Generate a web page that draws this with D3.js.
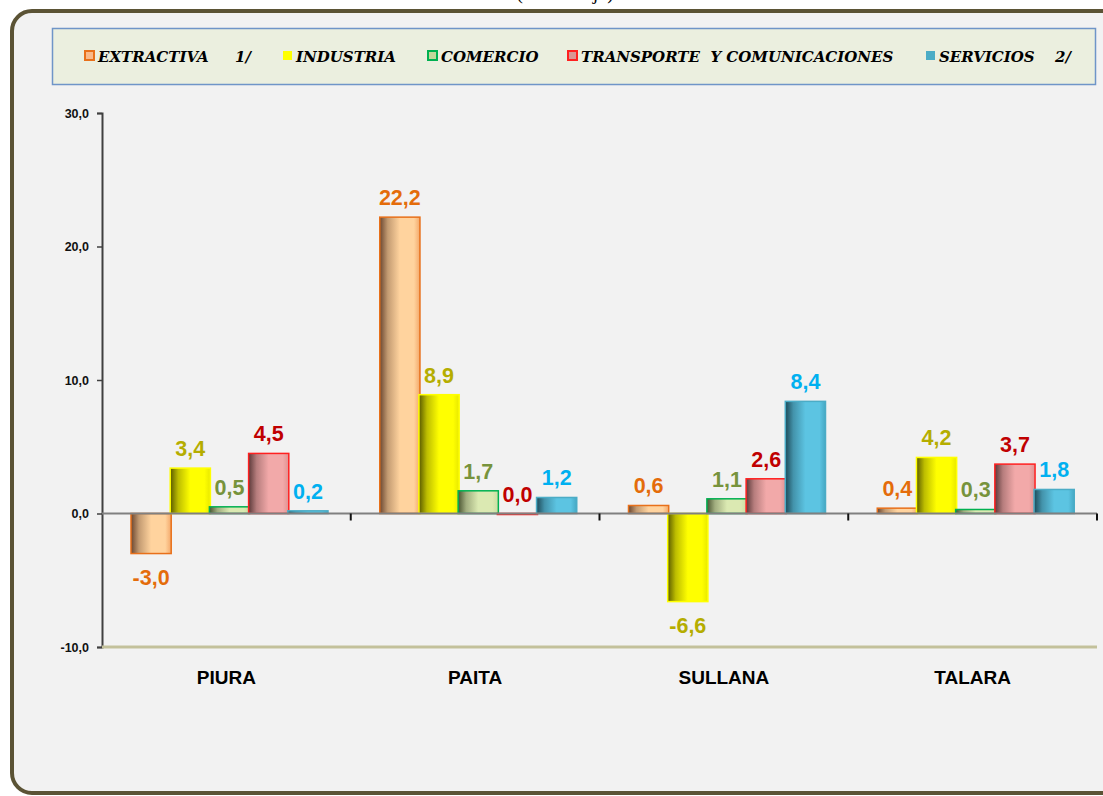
<!DOCTYPE html>
<html>
<head>
<meta charset="utf-8">
<script src="https://cdn.jsdelivr.net/npm/d3@7"></script>
<style>
body { margin: 0; background: #ffffff; }
svg { display: block; }
</style>
</head>
<body>
<div id="chart"></div>
<script>
// data
var regions = ['PIURA', 'PAITA', 'SULLANA', 'TALARA'];
var seriesNames = ['EXTRACTIVA', 'INDUSTRIA', 'COMERCIO', 'TRANSPORTE  Y COMUNICACIONES', 'SERVICIOS'];
var seriesNotes = ['1/', '', '', '', '2/'];
var extractiva = [-3.0, 22.2, 0.6, 0.4];
var industria = [3.4, 8.9, -6.6, 4.2];
var comercio = [0.5, 1.7, 1.1, 0.3];
var transporte = [4.5, 0.0, 2.6, 3.7];
var servicios = [0.2, 1.2, 8.4, 1.8];
var yTicks = [-10, 0, 10, 20, 30];

var width = 1103;
var height = 796;

// look of each series: dark side, light side, outline, label colour
var styles = [
	{dark: '#6a4630', light: '#ffd39e', edge: '#f3a86a', stroke: '#e8701a', label: '#e46c0a', key: '#f9b98a'},
	{dark: '#5a5a00', light: '#ffff00', edge: '#e8e800', stroke: '#ffff00', label: '#b5ad00', key: '#ffff00'},
	{dark: '#4a5432', light: '#dbe9b2', edge: '#c9dca0', stroke: '#00b050', label: '#77933c', key: '#c4d79b'},
	{dark: '#5c3a3a', light: '#f2a9a9', edge: '#e09090', stroke: '#ff2020', label: '#c00000', key: '#d99694'},
	{dark: '#1d4a58', light: '#5cc4e2', edge: '#45a8c4', stroke: '#4bacc6', label: '#00b0f0', key: '#4bacc6'}
];

var legendX = [84, 282, 427, 567, 925];
var noteX = [235, 0, 0, 0, 1055];

function fmt(v) {
	return v.toFixed(1).replace('.', ',');
}

function drawChart() {
	var values = [extractiva, industria, comercio, transporte, servicios];

	var svg = d3.select('#chart')
				.append('svg')
				.attr('width', width)
				.attr('height', height);

	// gradients for the cylinder look
	var defs = svg.append('defs');
	styles.forEach(function(s, i) {
		var g = defs.append('linearGradient')
					.attr('id', 'grad' + i)
					.attr('x1', '0%').attr('x2', '100%')
					.attr('y1', '0%').attr('y2', '0%');
		g.append('stop').attr('offset', '0%').attr('stop-color', s.dark);
		g.append('stop').attr('offset', '20%').attr('stop-color', d3.interpolateRgb(s.dark, s.light)(0.6));
		g.append('stop').attr('offset', '50%').attr('stop-color', s.light);
		g.append('stop').attr('offset', '85%').attr('stop-color', s.light);
		g.append('stop').attr('offset', '100%').attr('stop-color', s.edge);
	});

	// title, cut off at the top as in the original
	svg.append('text')
		.attr('x', 565)
		.attr('y', -1)
		.attr('text-anchor', 'middle')
		.style('font-family', '"Liberation Serif", serif')
		.style('font-size', '20px')
		.text('(Porcentaje)');

	// outer frame
	svg.append('rect')
		.attr('x', 12)
		.attr('y', 11)
		.attr('width', 1130)
		.attr('height', 782)
		.attr('rx', 20)
		.attr('fill', '#f2f2f2')
		.attr('stroke', '#5b5335')
		.attr('stroke-width', 4);

	// legend
	svg.append('rect')
		.attr('x', 52.5)
		.attr('y', 28.5)
		.attr('width', 1043)
		.attr('height', 56)
		.attr('fill', '#ebefdf')
		.attr('stroke', '#6f95c8')
		.attr('stroke-width', 1.5);

	var legend = svg.append('g')
		.selectAll('g')
		.data(seriesNames)
		.enter()
		.append('g');

	legend.append('rect')
		.attr('x', function(d, i) { return legendX[i] + 1; })
		.attr('y', 51)
		.attr('width', 9)
		.attr('height', 9)
		.attr('fill', function(d, i) { return styles[i].key; })
		.attr('stroke', function(d, i) { return styles[i].stroke; })
		.attr('stroke-width', function(d, i) { return (i == 1 || i == 4) ? 0 : 2; });

	legend.append('text')
		.attr('x', function(d, i) { return legendX[i] + 14; })
		.attr('y', 62)
		.style('font-family', '"DejaVu Serif", serif')
		.style('font-weight', 'bold')
		.style('font-style', 'italic')
		.style('font-size', '15px')
		.style('white-space', 'pre')
		.text(function(d) { return d; });

	legend.filter(function(d, i) { return seriesNotes[i] != ''; })
		.append('text')
		.attr('x', function(d) { return noteX[seriesNames.indexOf(d)]; })
		.attr('y', 62)
		.style('font-family', '"DejaVu Serif", serif')
		.style('font-weight', 'bold')
		.style('font-style', 'italic')
		.style('font-size', '15px')
		.text(function(d) { return seriesNotes[seriesNames.indexOf(d)]; });

	//Create scales
	var x0 = d3.scaleBand()
				.domain(regions)
				.range([102, 1097])
				.padding(0);

	var x1 = d3.scaleBand()
				.domain(seriesNames)
				.range([29.5, 225.5])
				.padding(0);

	var y = d3.scaleLinear()
				.domain([-10, 30])
				.range([647, 113]);

	var barW = x1.bandwidth() + 1;

	// y axis
	var y_axis = d3.axisLeft(y)
					.tickValues(yTicks)
					.tickSize(5)
					.tickFormat(fmt);

	var ya = svg.append('g')
		.attr('class', 'y-axis')
		.attr('transform', 'translate(102,0)')
		.call(y_axis);
	ya.select('.domain').attr('stroke', '#404040').attr('stroke-width', 2);
	ya.selectAll('.tick line').attr('stroke', '#404040').attr('stroke-width', 1.5);
	ya.selectAll('.tick text')
		.attr('x', -13)
		.style('font-family', '"Liberation Sans", Arial, sans-serif')
		.style('font-weight', 'bold')
		.style('font-size', '12.5px')
		.attr('fill', '#111');

	// bottom line at -10
	svg.append('line')
		.attr('x1', 102).attr('x2', 1097)
		.attr('y1', y(-10)).attr('y2', y(-10))
		.attr('stroke', '#c3c19b')
		.attr('stroke-width', 3);

	// bars
	var groups = svg.append('g')
		.selectAll('g')
		.data(regions)
		.enter()
		.append('g')
		.attr('transform', function(d) { return 'translate(' + x0(d) + ',0)'; });

	groups.selectAll('rect')
		.data(function(d, ri) {
			return seriesNames.map(function(s, si) { return {s: s, si: si, v: values[si][ri]}; });
		})
		.enter()
		.append('rect')
		.attr('x', function(d) { return x1(d.s) + x1.bandwidth() / 2 - barW / 2; })
		.attr('y', function(d) { return Math.min(y(d.v), y(0)); })
		.attr('width', barW)
		.attr('height', function(d) { return Math.max(1, Math.abs(y(d.v) - y(0))); })
		.attr('fill', function(d) { return 'url(#grad' + d.si + ')'; })
		.attr('stroke', function(d) { return styles[d.si].stroke; })
		.attr('stroke-width', 1.5);

	// zero line with ticks between regions
	svg.append('line')
		.attr('x1', 102).attr('x2', 1097)
		.attr('y1', y(0)).attr('y2', y(0))
		.attr('stroke', '#808080')
		.attr('stroke-width', 2);

	svg.append('g')
		.selectAll('line')
		.data(regions)
		.enter()
		.append('line')
		.attr('x1', function(d) { return x0(d) + x0.bandwidth(); })
		.attr('x2', function(d) { return x0(d) + x0.bandwidth(); })
		.attr('y1', y(0))
		.attr('y2', y(0) + 7)
		.attr('stroke', '#111')
		.attr('stroke-width', 2);

	//Create labels
	groups.selectAll('text.val')
		.data(function(d, ri) {
			return seriesNames.map(function(s, si) { return {s: s, si: si, v: values[si][ri]}; });
		})
		.enter()
		.append('text')
		.attr('class', 'val')
		.attr('x', function(d) { return x1(d.s) + x1.bandwidth() / 2; })
		.attr('y', function(d) {
			return d.v < 0 ? y(d.v) + 31 : y(d.v) - 12;
		})
		.attr('text-anchor', 'middle')
		.style('font-family', '"Liberation Sans", Arial, sans-serif')
		.style('font-weight', 'bold')
		.style('font-size', '21.5px')
		.attr('fill', function(d) { return styles[d.si].label; })
		.text(function(d) { return fmt(d.v); });

	// region names
	svg.append('g')
		.selectAll('text')
		.data(regions)
		.enter()
		.append('text')
		.attr('x', function(d) { return x0(d) + x0.bandwidth() / 2; })
		.attr('y', 684)
		.attr('text-anchor', 'middle')
		.style('font-family', '"Liberation Sans", Arial, sans-serif')
		.style('font-weight', 'bold')
		.style('font-size', '19px')
		.attr('fill', '#000')
		.text(function(d) { return d; });
}

drawChart();
</script>
</body>
</html>
